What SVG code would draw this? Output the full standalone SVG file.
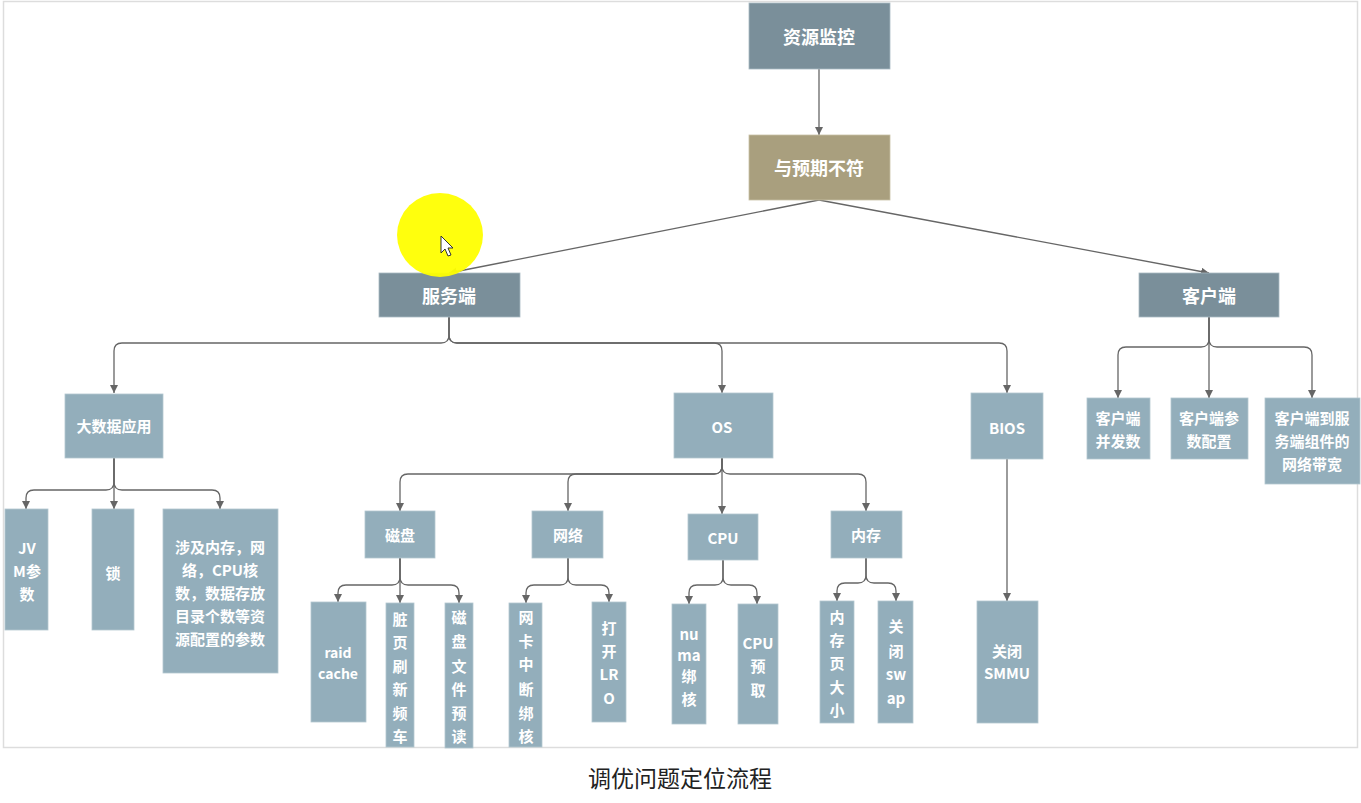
<svg xmlns="http://www.w3.org/2000/svg" width="1361" height="803" viewBox="0 0 1361 803">
<style>
.dark{fill:#7a8f9a;stroke:#a9bac2;stroke-width:0.8}
.tan{fill:#a99f7e;stroke:#c9c0a6;stroke-width:0.8}
.lite{fill:#93aebb;stroke:#b3c7d0;stroke-width:0.8}
.t{font-family:"Noto Sans CJK SC","Liberation Sans",sans-serif;font-weight:bold;fill:#ffffff;text-anchor:middle;dominant-baseline:central}
.big{font-size:18px}
.mid{font-size:15px}
.sm{font-size:14px}
.conn path{fill:none;stroke:#666666;stroke-width:1.3;marker-end:url(#arr)}
.cap{font-family:"Noto Sans CJK SC","Liberation Sans",sans-serif;font-size:23px;fill:#222222;text-anchor:middle}
</style>
<defs>
<marker id="arr" markerUnits="userSpaceOnUse" markerWidth="10" markerHeight="10" refX="8" refY="4" orient="auto">
<path d="M0,0 L8,4 L0,8 Z" fill="#666666"/>
</marker>
</defs>
<rect x="0" y="0" width="1361" height="803" fill="#ffffff"/>
<rect x="3.5" y="1.5" width="1354" height="746" fill="#ffffff" stroke="#dddddd" stroke-width="1.5"/>

<g id="connectors" class="conn">
<path d="M819 69 V135"/>
<path d="M819 200 L449 273"/>
<path d="M819 200 L1209 273"/>
<path d="M449 316 V335 Q449 343 441 343 H122 Q114 343 114 351 V393"/>
<path d="M449 316 V335 Q449 343 457 343 H714 Q722 343 722 351 V393"/>
<path d="M449 316 V335 Q449 343 457 343 H999 Q1007 343 1007 351 V393"/>
<path d="M114 458 V482 Q114 490 106 490 H34 Q26 490 26 498 V509"/>
<path d="M114 458 V509"/>
<path d="M114 458 V482 Q114 490 122 490 H212 Q220 490 220 498 V509"/>
<path d="M722 458 V466 Q722 474 714 474 H408 Q400 474 400 482 V511"/>
<path d="M722 458 V466 Q722 474 714 474 H576 Q568 474 568 482 V511"/>
<path d="M722 458 V514"/>
<path d="M722 458 V466 Q722 474 730 474 H858 Q866 474 866 482 V511"/>
<path d="M400 558 V577 Q400 585 392 585 H346 Q338 585 338 593 V602"/>
<path d="M400 558 V603"/>
<path d="M400 558 V577 Q400 585 408 585 H451 Q459 585 459 593 V603"/>
<path d="M568 558 V577 Q568 585 560 585 H534 Q526 585 526 593 V603"/>
<path d="M568 558 V577 Q568 585 576 585 H601 Q609 585 609 593 V602"/>
<path d="M723 560 V577 Q723 585 715 585 H697 Q689 585 689 593 V604"/>
<path d="M723 560 V577 Q723 585 731 585 H749 Q757 585 757 593 V604"/>
<path d="M866 558 V575 Q866 583 858 583 H845 Q837 583 837 591 V601"/>
<path d="M866 558 V575 Q866 583 874 583 H888 Q896 583 896 591 V601"/>
<path d="M1007 459 V601"/>
<path d="M1209 317 V339 Q1209 347 1201 347 H1126 Q1118 347 1118 355 V398"/>
<path d="M1209 317 V398"/>
<path d="M1209 317 V339 Q1209 347 1217 347 H1304 Q1312 347 1312 355 V398"/>
</g>

<g id="n-monitor"><rect class="dark" x="749" y="3" width="141" height="66"/><text class="t big" x="819" y="36">资源监控</text></g>
<g id="n-mismatch"><rect class="tan" x="749" y="135" width="141" height="65"/><text class="t big" x="819" y="167">与预期不符</text></g>
<g id="n-server"><rect class="dark" x="379" y="273" width="141" height="44"/><text class="t big" x="449" y="295">服务端</text></g>
<g id="n-client"><rect class="dark" x="1139" y="273" width="140" height="44"/><text class="t big" x="1209" y="295">客户端</text></g>

<g id="n-bigdata"><rect class="lite" x="65" y="394" width="98" height="64"/><text class="t mid" x="114" y="425">大数据应用</text></g>
<g id="n-os"><rect class="lite" x="674" y="393" width="99" height="65"/><text class="t mid" x="722" y="426">OS</text></g>
<g id="n-bios"><rect class="lite" x="971" y="393" width="72" height="66"/><text class="t mid" x="1007" y="427">BIOS</text></g>

<g id="n-jvm"><rect class="lite" x="5" y="509" width="43" height="121"/><text class="t mid" x="27"><tspan x="27" y="547">JV</tspan><tspan x="27" y="570">M参</tspan><tspan x="27" y="593">数</tspan></text></g>
<g id="n-lock"><rect class="lite" x="92" y="509" width="42" height="121"/><text class="t mid" x="113" y="572">锁</text></g>
<g id="n-res"><rect class="lite" x="163" y="509" width="115" height="164"/><text class="t mid" x="220"><tspan x="220" y="546">涉及内存，网</tspan><tspan x="220" y="569">络，CPU核</tspan><tspan x="220" y="592">数，数据存放</tspan><tspan x="220" y="615">目录个数等资</tspan><tspan x="220" y="638">源配置的参数</tspan></text></g>

<g id="n-disk"><rect class="lite" x="365" y="511" width="70" height="47"/><text class="t mid" x="400" y="534">磁盘</text></g>
<g id="n-net"><rect class="lite" x="532" y="511" width="71" height="47"/><text class="t mid" x="568" y="534">网络</text></g>
<g id="n-cpu"><rect class="lite" x="688" y="514" width="70" height="46"/><text class="t mid" x="723" y="537">CPU</text></g>
<g id="n-mem"><rect class="lite" x="831" y="511" width="71" height="47"/><text class="t mid" x="866" y="534">内存</text></g>

<g id="n-raid"><rect class="lite" x="311" y="602" width="55" height="120"/><text class="t sm" x="338"><tspan x="338" y="652">raid</tspan><tspan x="338" y="673">cache</tspan></text></g>
<g id="n-dirty"><rect class="lite" x="386" y="603" width="28" height="144"/><text class="t mid" x="400"><tspan x="400" y="618">脏</tspan><tspan x="400" y="641">页</tspan><tspan x="400" y="665">刷</tspan><tspan x="400" y="688">新</tspan><tspan x="400" y="712">频</tspan><tspan x="400" y="735">车</tspan></text></g>
<g id="n-readahead"><rect class="lite" x="445" y="603" width="28" height="145"/><text class="t mid" x="459"><tspan x="459" y="616">磁</tspan><tspan x="459" y="640">盘</tspan><tspan x="459" y="665">文</tspan><tspan x="459" y="688">件</tspan><tspan x="459" y="712">预</tspan><tspan x="459" y="735">读</tspan></text></g>
<g id="n-irq"><rect class="lite" x="509" y="603" width="33" height="144"/><text class="t mid" x="526"><tspan x="526" y="616">网</tspan><tspan x="526" y="640">卡</tspan><tspan x="526" y="663">中</tspan><tspan x="526" y="688">断</tspan><tspan x="526" y="712">绑</tspan><tspan x="526" y="735">核</tspan></text></g>
<g id="n-lro"><rect class="lite" x="592" y="602" width="34" height="120"/><text class="t mid" x="609"><tspan x="609" y="627">打</tspan><tspan x="609" y="650">开</tspan><tspan x="609" y="673">LR</tspan><tspan x="609" y="697">O</tspan></text></g>
<g id="n-numa"><rect class="lite" x="672" y="604" width="34" height="120"/><text class="t mid" x="689"><tspan x="689" y="633">nu</tspan><tspan x="689" y="654">ma</tspan><tspan x="689" y="675">绑</tspan><tspan x="689" y="698">核</tspan></text></g>
<g id="n-prefetch"><rect class="lite" x="738" y="604" width="40" height="120"/><text class="t mid" x="758"><tspan x="758" y="642">CPU</tspan><tspan x="758" y="665">预</tspan><tspan x="758" y="689">取</tspan></text></g>
<g id="n-page"><rect class="lite" x="820" y="601" width="34" height="122"/><text class="t mid" x="837"><tspan x="837" y="616">内</tspan><tspan x="837" y="639">存</tspan><tspan x="837" y="662">页</tspan><tspan x="837" y="686">大</tspan><tspan x="837" y="709">小</tspan></text></g>
<g id="n-swap"><rect class="lite" x="878" y="601" width="35" height="122"/><text class="t mid" x="896"><tspan x="896" y="625">关</tspan><tspan x="896" y="650">闭</tspan><tspan x="896" y="673">sw</tspan><tspan x="896" y="697">ap</tspan></text></g>
<g id="n-smmu"><rect class="lite" x="977" y="601" width="61" height="122"/><text class="t mid" x="1007"><tspan x="1007" y="650">关闭</tspan><tspan x="1007" y="672">SMMU</tspan></text></g>

<g id="n-conc"><rect class="lite" x="1087" y="398" width="63" height="61"/><text class="t mid" x="1118"><tspan x="1118" y="417">客户端</tspan><tspan x="1118" y="440">并发数</tspan></text></g>
<g id="n-cfg"><rect class="lite" x="1171" y="398" width="77" height="61"/><text class="t mid" x="1209"><tspan x="1209" y="417">客户端参</tspan><tspan x="1209" y="440">数配置</tspan></text></g>
<g id="n-bw"><rect class="lite" x="1265" y="398" width="95" height="86"/><text class="t mid" x="1312"><tspan x="1312" y="417">客户端到服</tspan><tspan x="1312" y="440">务端组件的</tspan><tspan x="1312" y="463">网络带宽</tspan></text></g>

<g id="pointer">
<ellipse cx="440" cy="235" rx="43" ry="42" fill="#ffff00" opacity="0.95"/>
<path d="M441 236 L441 253 L445 249 L448 256 L451 255 L448 248 L453 248 Z" fill="#ffffff" stroke="#333333" stroke-width="1"/>
</g>

<text class="cap" x="680" y="787">调优问题定位流程</text>
</svg>
